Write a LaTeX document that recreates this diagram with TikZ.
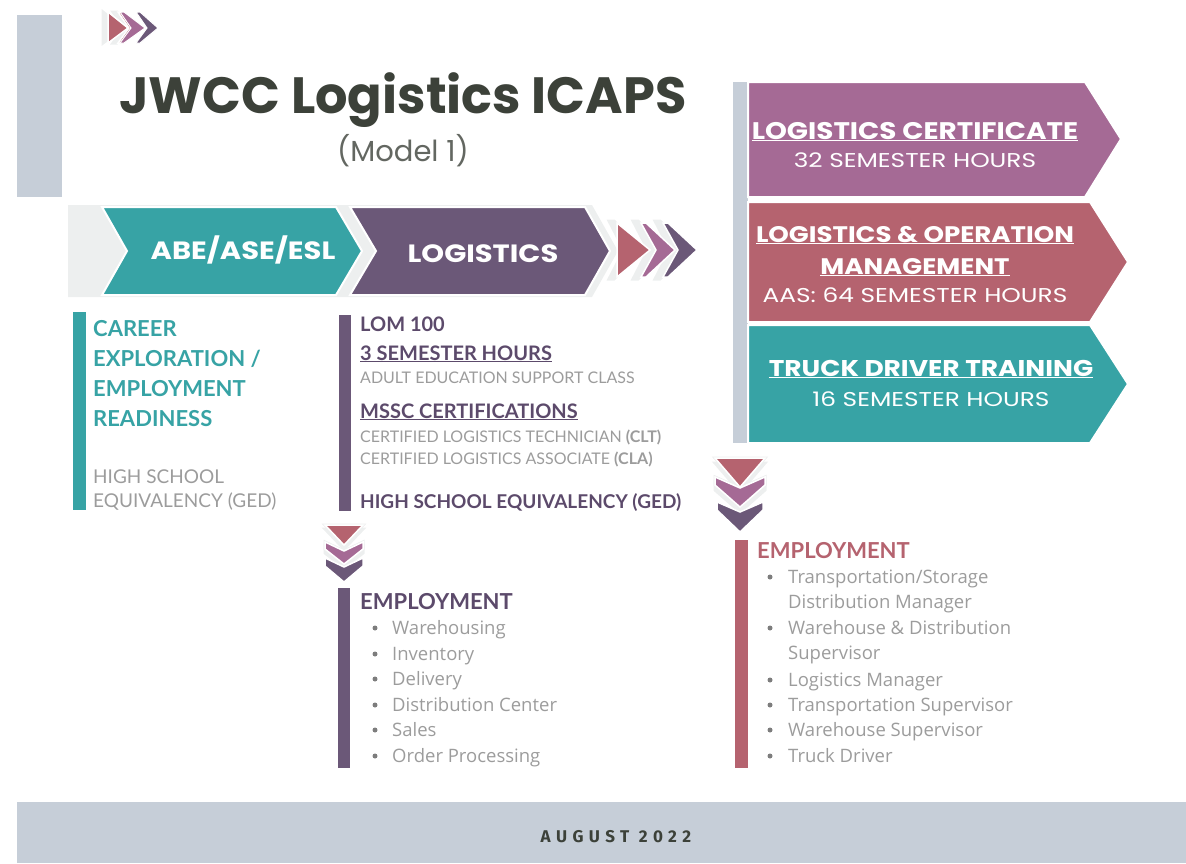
\documentclass[tikz,border=0pt]{standalone}
\usepackage{fontspec}
\setmainfont{Lato}
\newfontfamily\popfont{Poppins}
\newfontfamily\widefont[FakeStretch=1.16]{Poppins}
\newfontfamily\hoursfont[FakeStretch=1.24]{Poppins}
\newfontfamily\listfont{Open Sans}
\newfontfamily\datefont[LetterSpace=32]{Fira Sans}
\definecolor{tealc}{HTML}{37A3A5}
\definecolor{plumc}{HTML}{6B5878}
\definecolor{mauvec}{HTML}{A56A95}
\definecolor{rosec}{HTML}{B5636F}
\definecolor{barc}{HTML}{C6CED8}
\definecolor{shadec}{HTML}{EDEFEF}
\definecolor{titlec}{HTML}{3C4139}
\definecolor{greyc}{HTML}{9C9C9C}
\definecolor{plumtxt}{HTML}{5C4A6B}
\tikzstyle{txt} = [inner sep=0pt, anchor=base west]
\tikzstyle{ctxt} = [inner sep=0pt, anchor=base]
\tikzstyle{certtxt} = [ctxt, text=white, font=\widefont\bfseries\fontsize{24}{28}\selectfont]
\tikzstyle{hours} = [ctxt, text=white, font=\hoursfont\fontsize{20}{24}\selectfont]
\tikzstyle{bandtxt} = [ctxt, text=white, font=\widefont\bfseries\fontsize{25}{30}\selectfont]
\tikzstyle{careertxt} = [txt, text=tealc, font=\bfseries\fontsize{22}{26}\selectfont]
\tikzstyle{gedtxt} = [txt, text=greyc, font=\fontsize{19}{22}\selectfont]
\tikzstyle{lomtxt} = [txt, text=plumtxt, font=\bfseries\fontsize{20}{24}\selectfont]
\tikzstyle{smalltxt} = [txt, text=greyc, font=\fontsize{16}{19}\selectfont]
\tikzstyle{emptxt} = [txt, font=\bfseries\fontsize{22}{26}\selectfont]
\tikzstyle{itemtxt} = [txt, text=greyc, font=\listfont\fontsize{18.5}{22}\selectfont]
\tikzstyle{bullet} = [fill=greyc!80!black, circle, inner sep=0pt, minimum size=5pt]
\tikzstyle{seam} = [draw=white, line width=1.5pt]
\tikzstyle{shade} = [fill=shadec, draw=shadec, line width=3pt]

\begin{document}
\begin{tikzpicture}[x=1pt, y=-1pt]
	\useasboundingbox (0,0) rectangle (1186,863);
	\fill[barc] (17,15) rectangle (62,197);
	\fill[barc] (17,802) rectangle (1186,863);
	\node (date) [ctxt, text=titlec, font=\datefont\bfseries\fontsize{17}{20}\selectfont] at (616,842) {AUGUST 2022};
	
	% top chevrons
	\foreach \s/\c/\d in {-5/shade/shadec, 0/seam/rosec} {
		\path[\c, fill=\d, xshift=\s] (108,12) -- (128,28) -- (108,43) -- cycle;
		\path[\c, fill=\d, xshift=\s, xshift=-2] (120,12) -- (124,12) -- (145,28) -- (124,43) -- (120,43) -- (131,28) -- cycle;
	}
	\fill[mauvec, seam, line width=1pt] (120,12) -- (124,12) -- (145,28) -- (124,43) -- (120,43) -- (131,28) -- cycle;
	\fill[plumc, seam, line width=1pt] (136,12) -- (140,12) -- (158,28) -- (140,43) -- (136,43) -- (147,28) -- cycle;
	
	\node (title) [ctxt, text=titlec, font=\popfont\bfseries\fontsize{51}{60}\selectfont] at (403,113) {JWCC Logistics ICAPS};
	\node (model) [ctxt, text=titlec!80, font=\popfont\fontsize{29}{34}\selectfont] at (403,161) {(Model 1)};
	
	% band
	\fill[shadec] (68,205) -- (592,205) -- (618,251) -- (592,297) -- (68,297) -- cycle;
	\fill[tealc, seam, line width=2pt] (102,207) -- (336,207) -- (362,251) -- (336,295) -- (102,295) -- (127,251) -- cycle;
	\fill[plumc, seam, line width=2pt] (350,207) -- (585,207) -- (610,251) -- (585,295) -- (350,295) -- (376,251) -- cycle;
	\node (abe) [bandtxt] at (243,259) {ABE/ASE/ESL};
	\node (logi) [bandtxt] at (483,262) {LOGISTICS};
	\foreach \x in {609, 633, 655}
		\path[shade] (\x,221) -- ++(5,0) -- ++(29,29) -- ++(-29,29) -- ++(-5,0) -- ++(15,-29) -- cycle;
	\fill[rosec, seam] (617,223) -- (650,250) -- (617,277) -- cycle;
	\fill[mauvec, seam] (641,223) -- (646,223) -- (675,250) -- (646,277) -- (641,277) -- (656,250) -- cycle;
	\fill[plumc, seam] (663,223) -- (668,223) -- (697,250) -- (668,277) -- (663,277) -- (678,250) -- cycle;
	
	% left column
	\fill[tealc] (73,312) rectangle (86,510);
	\node (career) [careertxt] at (93,336) {CAREER};
	\node (explore) [careertxt] at (93,366) {EXPLORATION /};
	\node (employ) [careertxt] at (93,396) {EMPLOYMENT};
	\node (ready) [careertxt] at (93,426) {READINESS};
	\node (hs) [gedtxt] at (93,483) {HIGH SCHOOL};
	\node (equiv) [gedtxt] at (93,507) {EQUIVALENCY (GED)};
	
	% middle column
	\fill[plumc] (339,315) rectangle (351,511);
	\node (lom) [lomtxt] at (360,331) {LOM 100};
	\node (lomhrs) [lomtxt] at (360,360) {\underline{3 SEMESTER HOURS}};
	\node (adult) [smalltxt] at (360,383) {ADULT EDUCATION SUPPORT CLASS};
	\node (mssc) [lomtxt] at (360,418) {\underline{MSSC CERTIFICATIONS}};
	\node (clt) [smalltxt] at (360,442) {CERTIFIED LOGISTICS TECHNICIAN \textbf{(CLT)}};
	\node (cla) [smalltxt] at (360,464) {CERTIFIED LOGISTICS ASSOCIATE \textbf{(CLA)}};
	\node (ged) [lomtxt, font=\bfseries\fontsize{19}{22}\selectfont] at (360,508) {HIGH SCHOOL EQUIVALENCY (GED)};
	
	\foreach \s in {-4, 0} {
		\path[shade, yshift=\s] (325,525) -- (363,525) -- (344,545) -- cycle;
		\path[shade, yshift=\s] (325,542) -- (344,551) -- (363,542) -- (363,549) -- (344,564) -- (325,549) -- cycle;
	}
	\fill[rosec, seam] (325,525) -- (363,525) -- (344,545) -- cycle;
	\fill[mauvec, seam] (325,542) -- (344,551) -- (363,542) -- (363,549) -- (344,564) -- (325,549) -- cycle;
	\fill[plumc, seam] (325,558) -- (344,567) -- (363,558) -- (363,566) -- (344,582) -- (325,566) -- cycle;
	
	\fill[plumc] (338,588) rectangle (350,768);
	\node (emp1) [emptxt, text=plumtxt] at (360,609) {EMPLOYMENT};
	\foreach \y/\t [count=\i] in {628/Warehousing, 654/Inventory, 679/Delivery, 705/Distribution Center, 730/Sales, 756/Order Processing} {
		\node (b1-\i) [bullet] at (375,\y) {};
		\node (job1-\i) [itemtxt] at (392,\y+6) {\t};
	}
	
	% right column
	\fill[barc] (733,82) rectangle (748,443);
	\fill[mauvec, seam, line width=2pt] (748,82) -- (1085,82) -- (1121,139) -- (1085,197) -- (748,197) -- cycle;
	\fill[rosec, seam, line width=2pt] (748,202) -- (1090,202) -- (1128,262) -- (1090,322) -- (748,322) -- cycle;
	\fill[tealc, seam, line width=2pt] (748,325) -- (1090,325) -- (1128,384) -- (1090,443) -- (748,443) -- cycle;
	\node (cert) [certtxt] at (915,139) {\underline{LOGISTICS CERTIFICATE}};
	\node (certhrs) [hours] at (915,167) {32 SEMESTER HOURS};
	\node (lop) [certtxt, font=\widefont\bfseries\fontsize{22.5}{27}\selectfont] at (915,242) {\underline{LOGISTICS \& OPERATION}};
	\node (mgmt) [certtxt, font=\widefont\bfseries\fontsize{22.5}{27}\selectfont] at (915,274) {\underline{MANAGEMENT}};
	\node (aas) [hours] at (915,302) {AAS: 64 SEMESTER HOURS};
	\node (truck) [certtxt, font=\widefont\bfseries\fontsize{22.8}{27}\selectfont] at (931,376) {\underline{TRUCK DRIVER TRAINING}};
	\node (truckhrs) [hours] at (931,406) {16 SEMESTER HOURS};
	
	\foreach \s in {-5, 0} {
		\path[shade, yshift=\s] (715,458) -- (765,458) -- (740,487) -- cycle;
		\path[shade, yshift=\s] (715,477) -- (740,488) -- (765,477) -- (765,485) -- (740,507) -- (715,485) -- cycle;
	}
	\fill[rosec, seam] (715,458) -- (765,458) -- (740,487) -- cycle;
	\fill[mauvec, seam] (715,477) -- (740,488) -- (765,477) -- (765,485) -- (740,507) -- (715,485) -- cycle;
	\fill[plumc, seam] (717,502) -- (740,512) -- (763,502) -- (763,510) -- (740,532) -- (717,510) -- cycle;
	
	\fill[rosec] (735,540) rectangle (748,768);
	\node (emp2) [emptxt, text=rosec] at (757,558) {EMPLOYMENT};
	\foreach \y [count=\i] in {577, 628, 680, 705, 730, 756}
		\node (b2-\i) [bullet] at (770,\y) {};
	\node (job2-1) [itemtxt] at (788,583) {Transportation/Storage};
	\node (job2-2) [itemtxt] at (788,608) {Distribution Manager};
	\node (job2-3) [itemtxt] at (788,634) {Warehouse \& Distribution};
	\node (job2-4) [itemtxt] at (788,659) {Supervisor};
	\node (job2-5) [itemtxt] at (788,686) {Logistics Manager};
	\node (job2-6) [itemtxt] at (788,711) {Transportation Supervisor};
	\node (job2-7) [itemtxt] at (788,736) {Warehouse Supervisor};
	\node (job2-8) [itemtxt] at (788,762) {Truck Driver};
\end{tikzpicture}
\end{document}
